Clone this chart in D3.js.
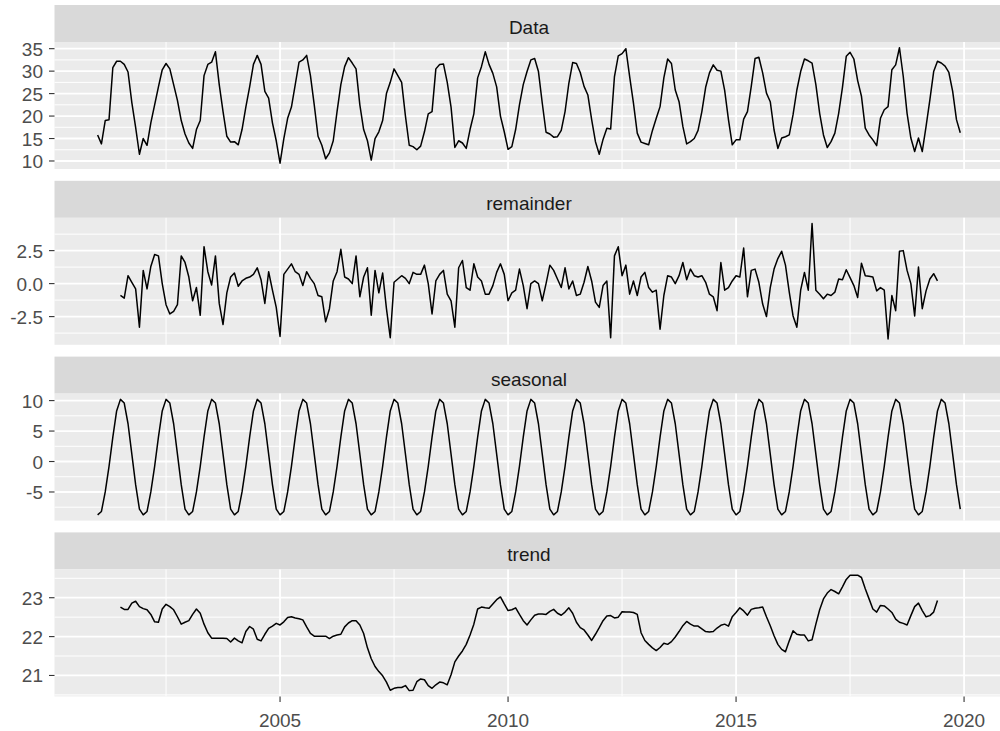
<!DOCTYPE html>
<html>
<head>
<meta charset="utf-8">
<script src="https://cdn.jsdelivr.net/npm/d3@7"></script>
<style>
  body { margin: 0; background: #ffffff; }
  svg { display: block; }
  text { font-family: "Liberation Sans", Arial, sans-serif; }
</style>
</head>
<body>
<svg id="chart" width="1000" height="731"></svg>
<script>
// Monthly series, January 2001 to December 2019
const seriesStartYear = 2001;

const dataValues = [
  15.8, 13.8, 19.0, 19.2, 30.8, 32.2, 32.2, 31.5, 29.8, 23.0, 17.5, 11.5,
  15.0, 13.5, 18.5, 22.5, 26.5, 30.3, 31.7, 30.5, 27.0, 23.5, 19.0, 16.0,
  14.0, 12.8, 17.0, 19.0, 29.0, 31.5, 32.0, 34.3, 27.0, 21.0, 15.5, 14.2,
  14.3, 13.6, 17.0, 22.0, 26.5, 31.5, 33.5, 31.5, 25.5, 24.0, 18.5, 14.5,
  9.5, 15.0, 19.5, 22.0, 27.0, 32.0, 32.5, 33.5, 29.0, 22.5, 15.5, 13.5,
  10.5, 11.8, 14.5, 21.0, 27.0, 31.0, 33.0, 31.8, 30.5, 22.5, 17.0, 14.5,
  10.2, 15.0, 16.5, 19.0, 25.0, 27.5, 30.5, 29.0, 27.5, 20.0, 13.5, 13.2,
  12.5, 13.3, 16.5, 20.5, 21.0, 30.5, 31.5, 31.6, 27.5, 22.0, 13.0, 14.5,
  14.0, 12.8, 17.0, 20.5, 28.5, 31.0, 34.3, 31.5, 29.5, 26.5, 20.0, 16.5,
  12.6, 13.2, 17.0, 22.5, 27.0, 29.9, 32.5, 32.8, 29.9, 22.9, 16.4, 16.0,
  15.3, 15.4, 16.8, 21.0, 27.3, 31.9, 31.7, 29.7, 26.6, 24.7, 19.2, 14.3,
  11.5, 14.8, 17.3, 17.1, 28.8, 33.4, 33.9, 35.0, 28.8, 22.9, 16.2, 14.2,
  13.9, 13.6, 16.8, 19.5, 22.1, 28.5, 32.7, 31.7, 25.8, 23.2, 17.7, 13.8,
  14.3, 15.0, 16.8, 21.0, 26.4, 29.6, 31.4, 30.2, 30.0, 25.7, 19.2, 13.6,
  14.7, 14.7, 19.3, 21.0, 26.6, 32.8, 33.1, 29.6, 25.1, 23.2, 16.9, 12.8,
  15.1, 15.4, 15.8, 20.3, 25.8, 29.9, 32.7, 32.3, 31.8, 27.0, 20.6, 15.8,
  13.0, 14.3, 16.2, 20.6, 26.4, 33.3, 34.2, 32.7, 27.9, 24.4, 17.3, 15.8,
  14.7, 13.4, 19.5, 21.4, 22.1, 30.3, 31.4, 35.2, 28.8, 20.6, 15.1, 12.1,
  15.1, 12.1, 17.7, 23.6, 29.9, 32.2, 31.8, 31.1, 29.7, 25.5, 19.2, 16.3
];

const seasonalValues = [
  -8.75, -8.2, -5.0, -0.8, 4.0, 8.3, 10.2, 9.6, 6.2, 1.2, -3.8, -7.8,
  -8.75, -8.2, -5.0, -0.8, 4.0, 8.3, 10.2, 9.6, 6.2, 1.2, -3.8, -7.8,
  -8.75, -8.2, -5.0, -0.8, 4.0, 8.3, 10.2, 9.6, 6.2, 1.2, -3.8, -7.8,
  -8.75, -8.2, -5.0, -0.8, 4.0, 8.3, 10.2, 9.6, 6.2, 1.2, -3.8, -7.8,
  -8.75, -8.2, -5.0, -0.8, 4.0, 8.3, 10.2, 9.6, 6.2, 1.2, -3.8, -7.8,
  -8.75, -8.2, -5.0, -0.8, 4.0, 8.3, 10.2, 9.6, 6.2, 1.2, -3.8, -7.8,
  -8.75, -8.2, -5.0, -0.8, 4.0, 8.3, 10.2, 9.6, 6.2, 1.2, -3.8, -7.8,
  -8.75, -8.2, -5.0, -0.8, 4.0, 8.3, 10.2, 9.6, 6.2, 1.2, -3.8, -7.8,
  -8.75, -8.2, -5.0, -0.8, 4.0, 8.3, 10.2, 9.6, 6.2, 1.2, -3.8, -7.8,
  -8.75, -8.2, -5.0, -0.8, 4.0, 8.3, 10.2, 9.6, 6.2, 1.2, -3.8, -7.8,
  -8.75, -8.2, -5.0, -0.8, 4.0, 8.3, 10.2, 9.6, 6.2, 1.2, -3.8, -7.8,
  -8.75, -8.2, -5.0, -0.8, 4.0, 8.3, 10.2, 9.6, 6.2, 1.2, -3.8, -7.8,
  -8.75, -8.2, -5.0, -0.8, 4.0, 8.3, 10.2, 9.6, 6.2, 1.2, -3.8, -7.8,
  -8.75, -8.2, -5.0, -0.8, 4.0, 8.3, 10.2, 9.6, 6.2, 1.2, -3.8, -7.8,
  -8.75, -8.2, -5.0, -0.8, 4.0, 8.3, 10.2, 9.6, 6.2, 1.2, -3.8, -7.8,
  -8.75, -8.2, -5.0, -0.8, 4.0, 8.3, 10.2, 9.6, 6.2, 1.2, -3.8, -7.8,
  -8.75, -8.2, -5.0, -0.8, 4.0, 8.3, 10.2, 9.6, 6.2, 1.2, -3.8, -7.8,
  -8.75, -8.2, -5.0, -0.8, 4.0, 8.3, 10.2, 9.6, 6.2, 1.2, -3.8, -7.8,
  -8.75, -8.2, -5.0, -0.8, 4.0, 8.3, 10.2, 9.6, 6.2, 1.2, -3.8, -7.8
];

// Trend and remainder run from July 2001 to June 2019
const trendOffset = 6;

const trendValues = [
                                      22.76, 22.70, 22.70, 22.86, 22.91, 22.77,
  22.72, 22.69, 22.57, 22.38, 22.37, 22.71, 22.83, 22.77, 22.69, 22.51, 22.32, 22.37,
  22.41, 22.57, 22.71, 22.60, 22.32, 22.10, 21.96, 21.96, 21.96, 21.96, 21.95, 21.86,
  21.96, 21.89, 21.84, 22.13, 22.26, 22.19, 21.93, 21.89, 22.06, 22.21, 22.27, 22.34,
  22.30, 22.38, 22.49, 22.51, 22.48, 22.46, 22.43, 22.25, 22.08, 22.01, 22.01, 22.01,
  22.01, 21.95, 22.01, 22.04, 22.06, 22.25, 22.35, 22.41, 22.41, 22.30, 22.08, 21.71,
  21.43, 21.23, 21.10, 20.99, 20.83, 20.62, 20.67, 20.69, 20.69, 20.74, 20.61, 20.62,
  20.84, 20.91, 20.89, 20.74, 20.67, 20.76, 20.83, 20.81, 20.76, 21.02, 21.35, 21.50,
  21.63, 21.80, 22.04, 22.32, 22.71, 22.76, 22.74, 22.73, 22.84, 22.95, 23.02, 22.84,
  22.67, 22.69, 22.74, 22.57, 22.41, 22.30, 22.43, 22.55, 22.58, 22.58, 22.57, 22.65,
  22.70, 22.60, 22.55, 22.63, 22.74, 22.60, 22.37, 22.23, 22.17, 22.04, 21.90, 22.06,
  22.23, 22.41, 22.53, 22.54, 22.48, 22.50, 22.64, 22.63, 22.63, 22.62, 22.57, 22.10,
  21.90, 21.80, 21.71, 21.64, 21.72, 21.83, 21.80, 21.87, 21.99, 22.13, 22.28, 22.39,
  22.32, 22.27, 22.27, 22.20, 22.13, 22.12, 22.13, 22.22, 22.29, 22.32, 22.27, 22.51,
  22.62, 22.74, 22.66, 22.55, 22.70, 22.73, 22.74, 22.76, 22.51, 22.28, 22.02, 21.80,
  21.67, 21.61, 21.89, 22.15, 22.06, 22.04, 22.04, 21.89, 21.92, 22.32, 22.69, 22.97,
  23.12, 23.21, 23.16, 23.10, 23.28, 23.47, 23.58, 23.58, 23.58, 23.52, 23.23, 22.97,
  22.71, 22.63, 22.80, 22.79, 22.71, 22.62, 22.45, 22.37, 22.34, 22.30, 22.54, 22.77,
  22.86, 22.67, 22.51, 22.54, 22.63, 22.93
];

const remainderValues = [
                                      -0.9, -1.1, 0.6, 0.1, -0.4, -3.3,
  1.0, -0.4, 1.3, 2.2, 2.1, 0.0, -1.6, -2.3, -2.1, -1.6, 2.1, 1.6,
  0.5, -1.3, -0.3, -2.4, 2.8, 0.9, -0.1, 2.1, -1.5, -3.1, -0.7, 0.5,
  0.8, -0.2, 0.2, 0.4, 0.5, 0.7, 1.2, 0.3, -1.5, 0.9, -0.5, -1.8,
  -4.0, 0.7, 1.1, 1.5, 0.9, 0.7, -0.15, 0.9, 0.4, 0.0, -0.9, -1.0,
  -2.9, -1.9, 0.2, 0.9, 2.6, 0.5, 0.35, 0.0, 2.1, -1.0, 0.5, 1.2,
  -2.4, 1.0, -0.7, 0.8, -1.9, -4.1, 0.1, 0.35, 0.6, 0.4, 0.0, 0.85,
  0.7, 0.7, 1.4, 0.0, -2.3, 0.2, 0.7, 1.0, -0.8, -1.3, -3.3, 1.2,
  1.75, -0.3, -0.5, 1.5, 0.5, 0.2, -0.8, -0.8, -0.15, 0.85, 1.5, 0.7,
  -1.3, -0.7, -0.5, 1.1, -0.15, -1.9, 0.0, 0.2, 0.0, -1.3, 0.0, 1.4,
  1.0, 0.35, -0.3, 1.2, -0.4, 0.2, -0.9, -0.8, 0.1, 1.3, 0.2, -1.4,
  -1.8, -0.15, 0.2, -4.1, 2.1, 2.8, 0.6, 1.4, -0.8, 0.2, -0.9, 0.5,
  0.85, -0.3, -0.65, -0.5, -3.45, -0.9, 0.6, 0.5, 0.0, 0.6, 1.6, 0.3,
  1.1, 0.6, 0.5, 0.6, 0.1, -0.8, -1.0, -2.05, 1.6, -0.5, -0.3, 0.2,
  0.6, 0.5, 2.7, -1.0, 1.0, 1.1, 0.1, -1.55, -2.5, -0.3, 1.1, 1.9,
  2.45, 1.4, -0.65, -2.45, -3.3, -0.5, 0.85, -0.5, 4.55, -0.5, -0.8, -1.15,
  -0.8, -0.9, -0.65, 0.35, 0.3, 1.05, 0.45, -0.15, -1.05, 1.55, 0.6, 0.55,
  0.5, -0.55, -0.3, -0.5, -4.2, -0.9, -2.05, 2.45, 2.5, 1.0, 0.0, -2.45,
  1.25, -1.9, -0.55, 0.35, 0.75, 0.2
];

// Facet titles, in panel order
const facetNames = ["Data", "remainder", "seasonal", "trend"];

// Axis breaks and their labels
const dataTicks = [10, 15, 20, 25, 30, 35];
const dataTickLabels = ["10", "15", "20", "25", "30", "35"];
const dataMinorTicks = [12.5, 17.5, 22.5, 27.5, 32.5];

const remainderTicks = [-2.5, 0, 2.5];
const remainderTickLabels = ["-2.5", "0.0", "2.5"];
const remainderMinorTicks = [-3.75, -1.25, 1.25, 3.75];

const seasonalTicks = [-5, 0, 5, 10];
const seasonalTickLabels = ["-5", "0", "5", "10"];
const seasonalMinorTicks = [-7.5, -2.5, 2.5, 7.5];

const trendTicks = [21, 22, 23];
const trendTickLabels = ["21", "22", "23"];
const trendMinorTicks = [20.5, 21.5, 22.5, 23.5];

const xTicks = [2005, 2010, 2015, 2020];
const xTickLabels = ["2005", "2010", "2015", "2020"];
const xMinorTicks = [2002.5, 2007.5, 2012.5, 2017.5];

// ---- assemble point lists ----
const monthTime = i => seriesStartYear + i / 12;
const toPoints = (vals, offset) => vals.map((v, i) => ({ t: monthTime(i + offset), v }));

const facets = [
  { name: facetNames[0], pts: toPoints(dataValues, 0), ticks: dataTicks, labels: dataTickLabels, minor: dataMinorTicks },
  { name: facetNames[1], pts: toPoints(remainderValues, trendOffset), ticks: remainderTicks, labels: remainderTickLabels, minor: remainderMinorTicks },
  { name: facetNames[2], pts: toPoints(seasonalValues, 0), ticks: seasonalTicks, labels: seasonalTickLabels, minor: seasonalMinorTicks },
  { name: facetNames[3], pts: toPoints(trendValues, trendOffset), ticks: trendTicks, labels: trendTickLabels, minor: trendMinorTicks }
];

// ---- layout ----
const svg = d3.select("#chart");
const panelLeft = 54.5, panelRight = 1003.4;
const firstStripTop = 5, facetStep = 175.8, stripHeight = 37, panelHeight = 127;
const fontSize = 19;
const axisTextColor = "#4D4D4D", stripTextColor = "#1A1A1A", tickColor = "#333333";

// ggplot-style 5% expansion of the data range
const expand = ext => { const p = (ext[1] - ext[0]) * 0.05; return [ext[0] - p, ext[1] + p]; };

const allTimes = facets[0].pts.map(d => d.t);
const x = d3.scaleLinear().domain(expand(d3.extent(allTimes))).range([panelLeft, panelRight]);

facets.forEach((f, i) => {
  const stripTop = firstStripTop + i * facetStep;
  const panelTop = stripTop + stripHeight;
  const panelBottom = panelTop + panelHeight;
  const y = d3.scaleLinear().domain(expand(d3.extent(f.pts, d => d.v))).range([panelBottom, panelTop]);
  const g = svg.append("g");

  // strip
  g.append("rect").attr("x", panelLeft).attr("y", stripTop)
    .attr("width", panelRight - panelLeft).attr("height", stripHeight).attr("fill", "#D9D9D9");
  g.append("text").attr("x", (panelLeft + panelRight) / 2).attr("y", stripTop + 29)
    .attr("text-anchor", "middle").attr("font-size", fontSize).attr("fill", stripTextColor)
    .text(f.name);

  // panel background
  g.append("rect").attr("x", panelLeft).attr("y", panelTop)
    .attr("width", panelRight - panelLeft).attr("height", panelHeight).attr("fill", "#EBEBEB");

  const [d0, d1] = y.domain();
  const inY = v => v >= d0 && v <= d1;
  const [xd0, xd1] = x.domain();
  const inX = v => v >= xd0 && v <= xd1;

  // minor grid
  g.selectAll(null).data(f.minor.filter(inY)).join("line")
    .attr("x1", panelLeft).attr("x2", panelRight)
    .attr("y1", d => y(d)).attr("y2", d => y(d))
    .attr("stroke", "#ffffff").attr("stroke-width", 1.0);
  g.selectAll(null).data(xMinorTicks.filter(inX)).join("line")
    .attr("x1", d => x(d)).attr("x2", d => x(d))
    .attr("y1", panelTop).attr("y2", panelBottom)
    .attr("stroke", "#ffffff").attr("stroke-width", 1.0);

  // major grid
  g.selectAll(null).data(f.ticks.filter(inY)).join("line")
    .attr("x1", panelLeft).attr("x2", panelRight)
    .attr("y1", d => y(d)).attr("y2", d => y(d))
    .attr("stroke", "#ffffff").attr("stroke-width", 1.8);
  g.selectAll(null).data(xTicks.filter(inX)).join("line")
    .attr("x1", d => x(d)).attr("x2", d => x(d))
    .attr("y1", panelTop).attr("y2", panelBottom)
    .attr("stroke", "#ffffff").attr("stroke-width", 1.8);

  // series line
  const line = d3.line().x(d => x(d.t)).y(d => y(d.v));
  g.append("path").datum(f.pts).attr("d", line)
    .attr("fill", "none").attr("stroke", "#000000").attr("stroke-width", 1.5)
    .attr("stroke-linejoin", "round");

  // y axis ticks and labels
  const yTickData = f.ticks.map((v, k) => ({ v, label: f.labels[k] })).filter(d => inY(d.v));
  g.selectAll(null).data(yTickData).join("line")
    .attr("x1", panelLeft - 5.5).attr("x2", panelLeft)
    .attr("y1", d => y(d.v)).attr("y2", d => y(d.v))
    .attr("stroke", tickColor).attr("stroke-width", 1.1);
  g.selectAll(null).data(yTickData).join("text")
    .attr("x", panelLeft - 11.5).attr("y", d => y(d.v) + 7)
    .attr("text-anchor", "end").attr("font-size", fontSize).attr("fill", axisTextColor)
    .text(d => d.label);

  // x axis under the last panel
  if (i === facets.length - 1) {
    const xTickData = xTicks.map((v, k) => ({ v, label: xTickLabels[k] })).filter(d => inX(d.v));
    g.selectAll(null).data(xTickData).join("line")
      .attr("x1", d => x(d.v)).attr("x2", d => x(d.v))
      .attr("y1", panelBottom).attr("y2", panelBottom + 5.5)
      .attr("stroke", tickColor).attr("stroke-width", 1.1);
    g.selectAll(null).data(xTickData).join("text")
      .attr("x", d => x(d.v)).attr("y", panelBottom + 31)
      .attr("text-anchor", "middle").attr("font-size", fontSize).attr("fill", axisTextColor)
      .text(d => d.label);
  }
});
</script>
</body>
</html>
